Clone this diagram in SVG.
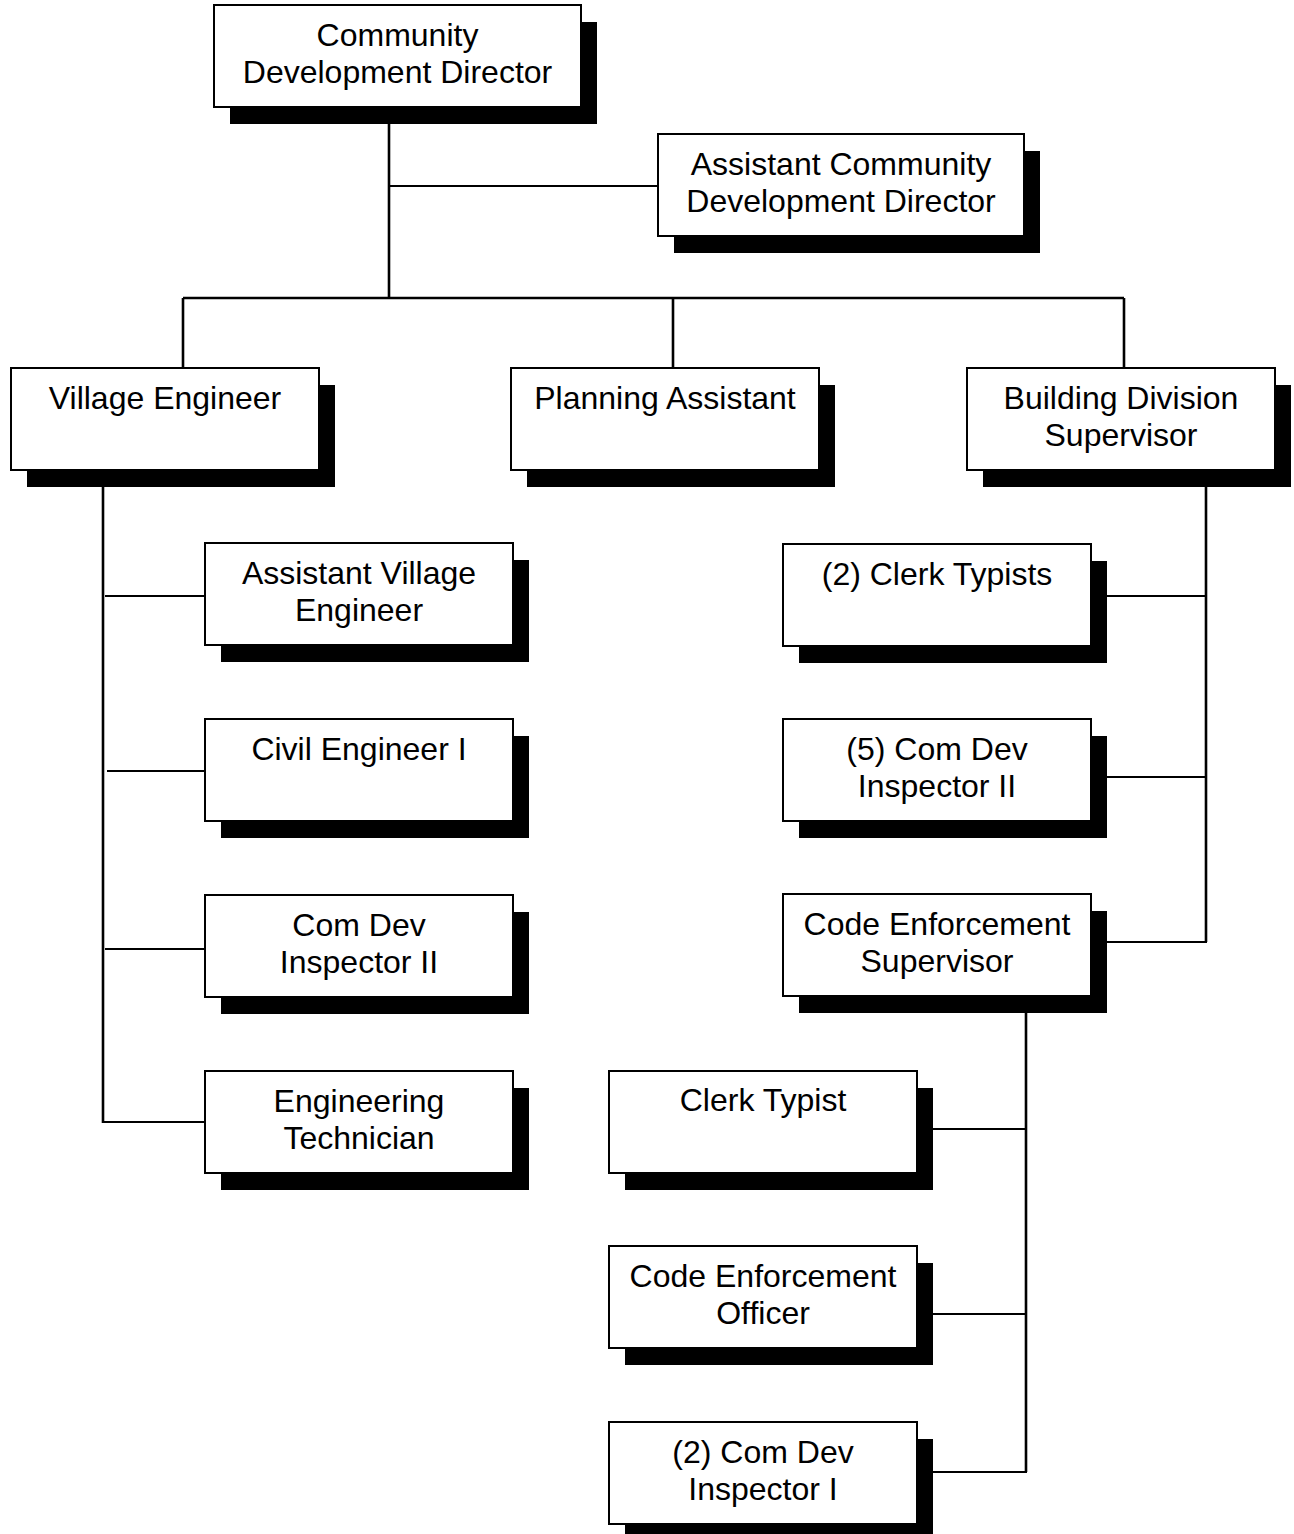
<svg xmlns="http://www.w3.org/2000/svg" width="1294" height="1534" viewBox="0 0 1294 1534">
  <defs>
    <style>
      .shadow { fill: #000; }
      .box { fill: #fff; stroke: #000; stroke-width: 2; }
      .label { font-family: "Liberation Sans", Arial, sans-serif; font-size: 32px; fill: #000; text-anchor: middle; }
      .trunk { fill: none; stroke: #000; stroke-width: 2.6; }
      .branch { fill: none; stroke: #000; stroke-width: 2; }
    </style>
  </defs>
  <rect width="1294" height="1534" fill="#fff"/>

  <!-- reporting lines -->
  <g id="connectors">
    <path class="trunk" d="M389,124 V298"/>
    <path class="branch" d="M389,186 H658"/>
    <path class="trunk" d="M183,298 H1124"/>
    <path class="trunk" d="M183,298 V368 M673,298 V368 M1124,298 V368"/>

    <path class="trunk" d="M103,487 V1123"/>
    <path class="branch" d="M105,596 H205 M107,771 H205 M105,949 H205 M103,1122 H205"/>

    <path class="trunk" d="M1206,469 V942"/>
    <path class="branch" d="M1107,596 H1206 M1107,777 H1206 M1107,942 H1207"/>

    <path class="trunk" d="M1026,1013 V1472"/>
    <path class="branch" d="M933,1129 H1026 M933,1314 H1026 M933,1472 H1027"/>
  </g>

  <g id="director">
    <rect class="shadow" x="230" y="22" width="367" height="102"/>
    <rect class="box" x="214" y="5" width="367" height="102"/>
    <text class="label" x="397.5" y="46">Community</text>
    <text class="label" x="397.5" y="83">Development Director</text>
  </g>

  <g id="assistant-director">
    <rect class="shadow" x="674" y="151" width="366" height="102"/>
    <rect class="box" x="658" y="134" width="366" height="102"/>
    <text class="label" x="841" y="175">Assistant Community</text>
    <text class="label" x="841" y="212">Development Director</text>
  </g>

  <g id="village-engineer">
    <rect class="shadow" x="27" y="385" width="308" height="102"/>
    <rect class="box" x="11" y="368" width="308" height="102"/>
    <text class="label" x="165" y="409">Village Engineer</text>
  </g>

  <g id="planning-assistant">
    <rect class="shadow" x="527" y="385" width="308" height="102"/>
    <rect class="box" x="511" y="368" width="308" height="102"/>
    <text class="label" x="665" y="409">Planning Assistant</text>
  </g>

  <g id="building-supervisor">
    <rect class="shadow" x="983" y="385" width="308" height="102"/>
    <rect class="box" x="967" y="368" width="308" height="102"/>
    <text class="label" x="1121" y="409">Building Division</text>
    <text class="label" x="1121" y="446">Supervisor</text>
  </g>

  <g id="assistant-village-engineer">
    <rect class="shadow" x="221" y="560" width="308" height="102"/>
    <rect class="box" x="205" y="543" width="308" height="102"/>
    <text class="label" x="359" y="584">Assistant Village</text>
    <text class="label" x="359" y="621">Engineer</text>
  </g>

  <g id="civil-engineer">
    <rect class="shadow" x="221" y="736" width="308" height="102"/>
    <rect class="box" x="205" y="719" width="308" height="102"/>
    <text class="label" x="359" y="760">Civil Engineer I</text>
  </g>

  <g id="inspector-ii-eng">
    <rect class="shadow" x="221" y="912" width="308" height="102"/>
    <rect class="box" x="205" y="895" width="308" height="102"/>
    <text class="label" x="359" y="936">Com Dev</text>
    <text class="label" x="359" y="973">Inspector II</text>
  </g>

  <g id="engineering-technician">
    <rect class="shadow" x="221" y="1088" width="308" height="102"/>
    <rect class="box" x="205" y="1071" width="308" height="102"/>
    <text class="label" x="359" y="1112">Engineering</text>
    <text class="label" x="359" y="1149">Technician</text>
  </g>

  <g id="clerk-typists">
    <rect class="shadow" x="799" y="561" width="308" height="102"/>
    <rect class="box" x="783" y="544" width="308" height="102"/>
    <text class="label" x="937" y="585">(2) Clerk Typists</text>
  </g>

  <g id="inspector-ii-bldg">
    <rect class="shadow" x="799" y="736" width="308" height="102"/>
    <rect class="box" x="783" y="719" width="308" height="102"/>
    <text class="label" x="937" y="760">(5) Com Dev</text>
    <text class="label" x="937" y="797">Inspector II</text>
  </g>

  <g id="code-enforcement-supervisor">
    <rect class="shadow" x="799" y="911" width="308" height="102"/>
    <rect class="box" x="783" y="894" width="308" height="102"/>
    <text class="label" x="937" y="935">Code Enforcement</text>
    <text class="label" x="937" y="972">Supervisor</text>
  </g>

  <g id="clerk-typist">
    <rect class="shadow" x="625" y="1088" width="308" height="102"/>
    <rect class="box" x="609" y="1071" width="308" height="102"/>
    <text class="label" x="763" y="1111">Clerk Typist</text>
  </g>

  <g id="code-enforcement-officer">
    <rect class="shadow" x="625" y="1263" width="308" height="102"/>
    <rect class="box" x="609" y="1246" width="308" height="102"/>
    <text class="label" x="763" y="1287">Code Enforcement</text>
    <text class="label" x="763" y="1324">Officer</text>
  </g>

  <g id="inspector-i">
    <rect class="shadow" x="625" y="1439" width="308" height="102"/>
    <rect class="box" x="609" y="1422" width="308" height="102"/>
    <text class="label" x="763" y="1463">(2) Com Dev</text>
    <text class="label" x="763" y="1500">Inspector I</text>
  </g>
</svg>
